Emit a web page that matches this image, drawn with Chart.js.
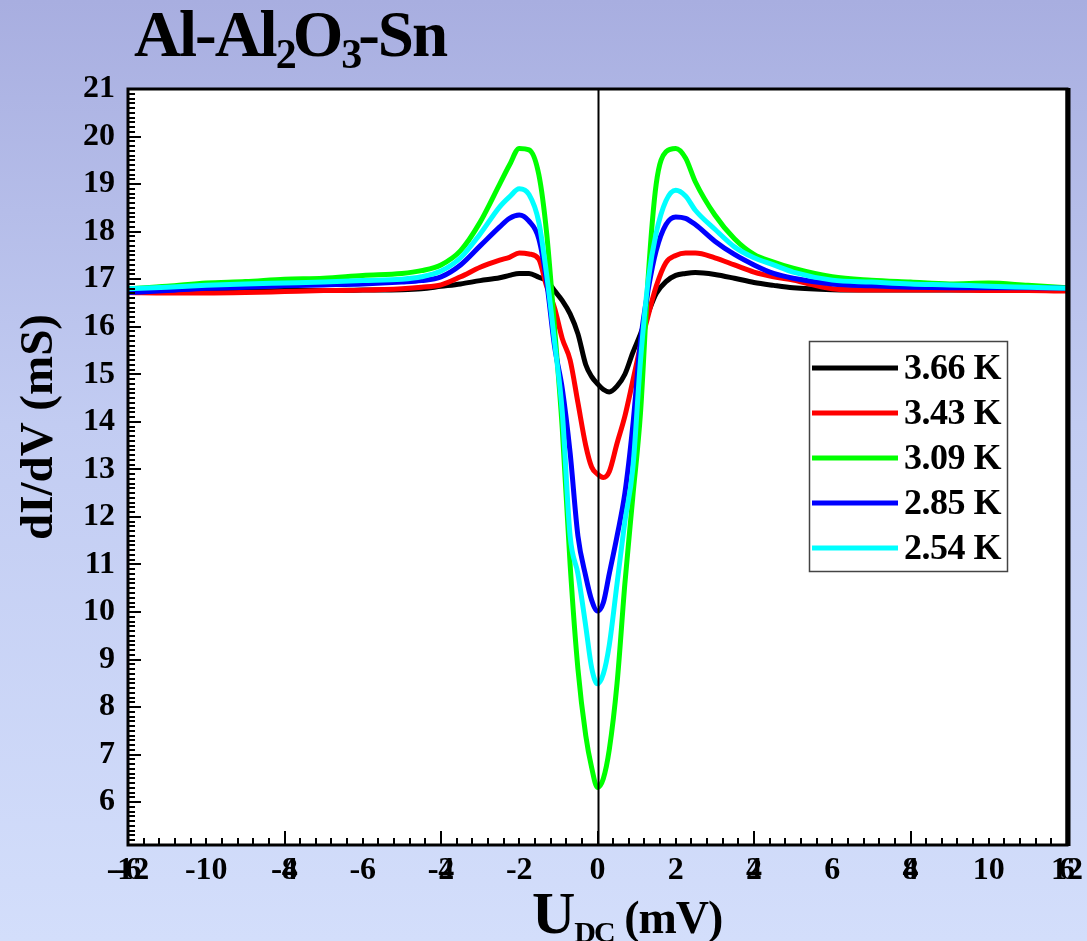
<!DOCTYPE html>
<html>
<head>
<meta charset="utf-8">
<script src="https://cdn.jsdelivr.net/npm/chart.js@4/dist/chart.umd.min.js"></script>
<style>
  html, body { margin: 0; padding: 0; }
  body {
    width: 1087px; height: 941px; overflow: hidden;
    background: linear-gradient(to bottom, #a8aee0 0%, #c2ccf2 45%, #d3defb 100%);
  }
  canvas { display: block; }
</style>
</head>
<body>
<canvas id="chart" width="1087" height="941"></canvas>
<script>
// bias voltage U_DC (mV)
const voltage = [-12, -11, -10, -9, -8, -7, -6, -5, -4.5, -4, -3.5, -3, -2.5, -2.25, -2, -1.75, -1.5, -1.3, -1.1, -0.9, -0.7, -0.5, -0.3, -0.15,
    0, 0.15, 0.3, 0.5, 0.7, 0.9, 1.1, 1.3, 1.5, 1.75, 2, 2.25, 2.5, 3, 3.5, 4, 4.5, 5, 6, 7, 8, 9, 10, 11, 12];

// dI/dV (mS) at each temperature
const g366 = [16.75, 16.75, 16.75, 16.75, 16.76, 16.76, 16.77, 16.78, 16.8, 16.85, 16.9, 16.97, 17.03, 17.08, 17.12, 17.12, 17.04, 16.97, 16.76, 16.55, 16.27, 15.85, 15.2, 14.95,
    14.8, 14.68, 14.63, 14.75, 15.0, 15.45, 15.85, 16.3, 16.7, 16.95, 17.08, 17.12, 17.14, 17.1, 17.02, 16.93, 16.87, 16.82, 16.78, 16.77, 16.77, 16.77, 16.77, 16.77, 16.77];
const g343 = [16.72, 16.71, 16.71, 16.72, 16.74, 16.76, 16.77, 16.8, 16.83, 16.88, 17.05, 17.25, 17.4, 17.46, 17.55, 17.53, 17.42, 16.85, 16.4, 15.75, 15.3, 14.4, 13.5, 13.05,
    12.9, 12.83, 12.95, 13.55, 14.12, 14.85, 15.6, 16.25, 16.85, 17.35, 17.5, 17.55, 17.55, 17.45, 17.3, 17.15, 17.05, 16.98, 16.8, 16.77, 16.77, 16.77, 16.76, 16.76, 16.75];
const g309 = [16.8, 16.85, 16.92, 16.95, 17.0, 17.02, 17.08, 17.12, 17.18, 17.3, 17.6, 18.2, 19.0, 19.4, 19.75, 19.72, 19.2, 17.97, 16.0, 13.85, 11.0, 8.8, 7.4, 6.73,
    6.31, 6.5, 7.1, 8.5, 10.6, 12.4, 14.2, 17.1, 19.0, 19.68, 19.75, 19.55, 19.05, 18.35, 17.85, 17.52, 17.36, 17.23, 17.05, 16.98, 16.94, 16.9, 16.92, 16.87, 16.82];
const g285 = [16.72, 16.76, 16.81, 16.83, 16.86, 16.88, 16.9, 16.94, 16.97, 17.05, 17.3, 17.7, 18.1, 18.28, 18.35, 18.22, 17.85, 16.95, 15.6, 14.7, 13.35, 11.6, 10.75, 10.25,
    10.02, 10.2, 10.8, 11.6, 12.5, 13.9, 15.7, 16.8, 17.6, 18.15, 18.31, 18.28, 18.15, 17.8, 17.52, 17.3, 17.12, 17.02, 16.9, 16.86, 16.83, 16.82, 16.82, 16.82, 16.81];
const g254 = [16.8, 16.83, 16.87, 16.9, 16.92, 16.94, 16.97, 17.0, 17.05, 17.17, 17.45, 17.95, 18.52, 18.73, 18.9, 18.78, 18.2, 17.1, 15.7, 14.2, 11.6, 10.8, 9.7, 8.83,
    8.49, 8.7, 9.3, 10.6, 11.9, 13.0, 15.3, 17.0, 17.97, 18.65, 18.87, 18.75, 18.45, 18.05, 17.68, 17.45, 17.3, 17.15, 16.98, 16.94, 16.9, 16.88, 16.85, 16.83, 16.81];

const seriesLabels = ["3.66 K", "3.43 K", "3.09 K", "2.85 K", "2.54 K"];
const seriesValues = [g366, g343, g309, g285, g254];
const seriesColors = ["#000000", "#ff0000", "#00ff00", "#0000ff", "#00ffff"];

const xTickValues = [-12, -10, -8, -6, -4, -2, 0, 2, 4, 6, 8, 10, 12];
// second (overprinted) label set of the original, at half scale
const xTickValuesAlt = [-6, -4, -2, 0, 2, 4, 6];
const yTickValues = [6, 7, 8, 9, 10, 11, 12, 13, 14, 15, 16, 17, 18, 19, 20, 21];

const FONT = "'Liberation Serif', 'Times New Roman', serif";
const TICK_SIZE = 32;
const X_LABEL_PAD = 7;

// draw a line of text made of runs (for subscripts)
function drawRuns(ctx, x, y, runs) {
    runs.forEach(r => {
        ctx.font = "bold " + r.size + "px " + FONT;
        ctx.letterSpacing = (r.ls || 0) + "px";
        ctx.fillText(r.text, x, y + (r.dy || 0));
        x += ctx.measureText(r.text).width + (r.kern || 0);
    });
}

// white plot area, frame, inward ticks, zero line
const framePlugin = {
    id: "frame",
    beforeDatasetsDraw(chart) {
        const { ctx, chartArea: a } = chart;
        ctx.save();
        ctx.fillStyle = "#ffffff";
        ctx.fillRect(a.left, a.top, a.right - a.left, a.bottom - a.top);
        ctx.restore();
    },
    afterDatasetsDraw(chart) {
        const { ctx, chartArea: a, scales } = chart;
        const x = scales.x, y = scales.y;
        ctx.save();
        ctx.strokeStyle = "#000000";

        // zero line
        ctx.lineWidth = 2;
        const x0 = Math.round(x.getPixelForValue(0)) + 0.5;
        ctx.beginPath();
        ctx.moveTo(x0, a.top);
        ctx.lineTo(x0, a.bottom);
        ctx.stroke();

        // y ticks, every 0.1, major every 1
        ctx.lineWidth = 2;
        ctx.beginPath();
        for (let k = Math.ceil(y.min * 10); k <= Math.floor(y.max * 10); k++) {
            const py = Math.round(y.getPixelForValue(k / 10));
            const len = k % 10 === 0 ? 13 : 7;
            ctx.moveTo(a.left, py);
            ctx.lineTo(a.left + len, py);
        }
        // x ticks, every 0.4, major every 4
        for (let k = -30; k <= 30; k++) {
            const px = Math.round(x.getPixelForValue(k * 0.4));
            const len = k % 10 === 0 ? 14 : 7;
            ctx.moveTo(px, a.bottom);
            ctx.lineTo(px, a.bottom - len);
        }
        ctx.stroke();

        // frame
        ctx.lineWidth = 3;
        ctx.strokeRect(a.left, a.top, a.right - a.left, a.bottom - a.top);
        ctx.lineWidth = 5;
        ctx.beginPath();
        ctx.moveTo(a.right + 1, a.top - 1);
        ctx.lineTo(a.right + 1, a.bottom + 1);
        ctx.stroke();
        ctx.restore();
    }
};

// titles, overprinted x labels and legend box
const textPlugin = {
    id: "texts",
    afterDraw(chart) {
        const { ctx, chartArea: a } = chart;
        ctx.save();
        ctx.fillStyle = "#000000";

        // overprinted labels from the hidden x2 scale, same line as the x labels
        const x2 = chart.scales.x2;
        ctx.font = "bold " + TICK_SIZE + "px " + FONT;
        ctx.textAlign = "center";
        ctx.textBaseline = "middle";
        const ly = a.bottom + X_LABEL_PAD + TICK_SIZE * 1.2 / 2;
        x2.ticks.forEach(t => {
            if (t.value === 0) return;
            ctx.fillText(t.label, x2.getPixelForValue(t.value), ly);
        });

        ctx.textBaseline = "alphabetic";
        ctx.textAlign = "left";

        // main title
        drawRuns(ctx, 134, 56, [
            { text: "Al-Al", size: 65, ls: -2 },
            { text: "2", size: 42, dy: 12, kern: -2, ls: -2 },
            { text: "O", size: 65, ls: -2 },
            { text: "3", size: 42, dy: 12, kern: -2, ls: -2 },
            { text: "-Sn", size: 65, ls: -2 }
        ]);

        // x axis title
        drawRuns(ctx, 532, 933, [
            { text: "U", size: 60, ls: -1 },
            { text: "DC", size: 30, dy: 9, ls: -2 },
            { text: " (mV)", size: 46, ls: -1 }
        ]);

        // y axis title
        ctx.letterSpacing = "0px";
        ctx.translate(40, 427);
        ctx.rotate(-Math.PI / 2);
        ctx.textAlign = "center";
        ctx.textBaseline = "middle";
        ctx.font = "bold 47px " + FONT;
        ctx.fillText("dI/dV (mS)", 0, 0);
        ctx.setTransform(1, 0, 0, 1, 0, 0);

        // legend
        const bx = 809, by = 341, bw = 198, bh = 230, row = 45;
        ctx.fillStyle = "#ffffff";
        ctx.fillRect(bx, by, bw, bh);
        ctx.strokeStyle = "#444444";
        ctx.lineWidth = 1.5;
        ctx.strokeRect(bx + 0.5, by + 0.5, bw, bh);
        ctx.textAlign = "left";
        ctx.textBaseline = "middle";
        ctx.font = "bold 36px " + FONT;
        ctx.letterSpacing = "-0.5px";
        chart.data.datasets.forEach((ds, i) => {
            const cy = by + 27 + i * row;
            ctx.strokeStyle = ds.borderColor;
            ctx.lineWidth = 5;
            ctx.beginPath();
            ctx.moveTo(bx + 3, cy);
            ctx.lineTo(bx + 89, cy);
            ctx.stroke();
            ctx.fillStyle = "#000000";
            ctx.fillText(ds.label, bx + 95, cy + 2);
        });
        ctx.restore();
    }
};

const tickFont = { family: FONT, size: TICK_SIZE, weight: "bold" };

const datasets = seriesLabels.map((label, i) => ({
    label,
    data: voltage.map((v, j) => ({ x: v, y: seriesValues[i][j] })),
    borderColor: seriesColors[i],
    backgroundColor: seriesColors[i],
    borderWidth: 5,
    pointRadius: 0,
    cubicInterpolationMode: "monotone",
    fill: false,
    order: seriesLabels.length - i
}));

new Chart(document.getElementById("chart").getContext("2d"), {
    type: "line",
    data: { datasets },
    options: {
        responsive: false,
        animation: false,
        devicePixelRatio: 1,
        layout: { padding: { left: 0, top: 89, right: 20, bottom: 0 } },
        plugins: {
            legend: { display: false },
            tooltip: { enabled: false }
        },
        scales: {
            x: {
                type: "linear",
                position: "bottom",
                min: -12,
                max: 12,
                grid: { display: false, drawTicks: false },
                border: { display: false },
                ticks: { font: tickFont, color: "#000000", padding: X_LABEL_PAD, maxRotation: 0, autoSkip: false },
                afterBuildTicks: s => { s.ticks = xTickValues.map(v => ({ value: v })); },
                afterFit: s => { s.height = 96; s.paddingLeft = 0; s.paddingRight = 0; }
            },
            x2: {
                type: "linear",
                display: false,
                min: -6,
                max: 6,
                afterBuildTicks: s => { s.ticks = xTickValuesAlt.map(v => ({ value: v })); }
            },
            y: {
                type: "linear",
                min: 5.1,
                max: 21,
                grid: { display: false, drawTicks: false },
                border: { display: false },
                ticks: { font: tickFont, color: "#000000", padding: 13 },
                afterBuildTicks: s => { s.ticks = yTickValues.map(v => ({ value: v })); },
                afterFit: s => { s.width = 128; s.paddingTop = 0; s.paddingBottom = 0; }
            }
        }
    },
    plugins: [framePlugin, textPlugin]
});
</script>
</body>
</html>
